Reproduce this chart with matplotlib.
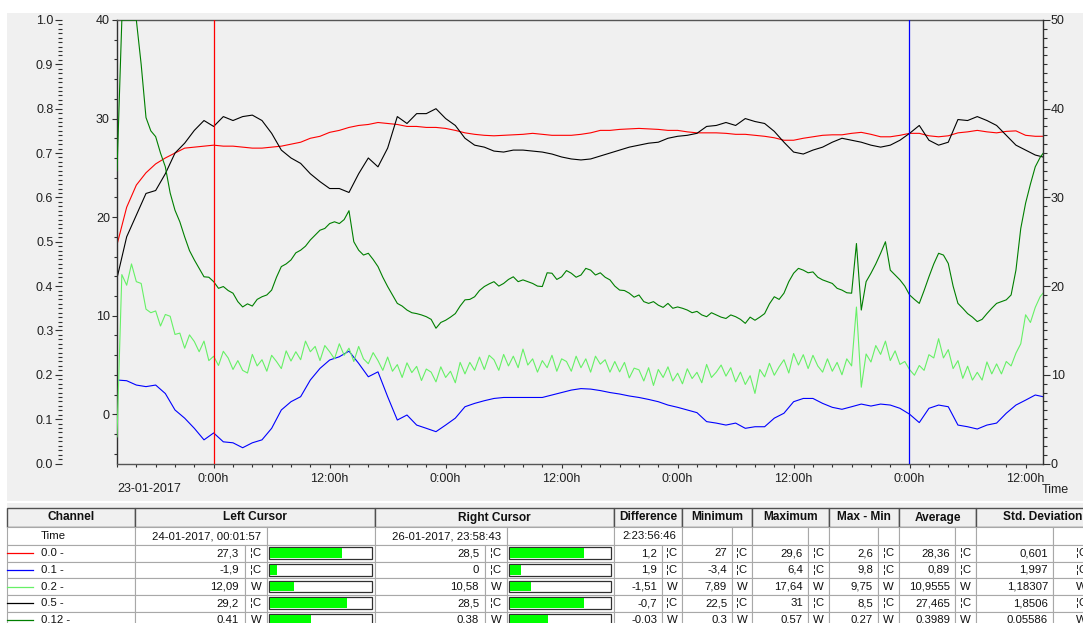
import matplotlib
matplotlib.use("Agg")
import matplotlib.pyplot as plt
import matplotlib.dates as mdates
from matplotlib.ticker import MultipleLocator, FixedLocator, FuncFormatter
from matplotlib.patches import Rectangle
from datetime import datetime, timedelta
import numpy as np

plt.rcParams['font.family'] = ['Liberation Sans', 'DejaVu Sans']

# ---------------------------------------------------------------- data
START = datetime(2017, 1, 23, 14, 0)
END_HOURS = 95.8

# hourly temperature channels (degC), last value at END_HOURS
temp_00 = [
    17.2, 21.0, 23.25, 24.5, 25.4, 26.0, 26.5, 27.0, 27.1, 27.2,
    27.3, 27.2, 27.2, 27.1, 27.0, 27.0, 27.1, 27.2, 27.4, 27.6,
    28.0, 28.2, 28.6, 28.8, 29.1, 29.3, 29.4, 29.6, 29.5, 29.4,
    29.2, 29.2, 29.1, 29.1, 29.0, 28.8, 28.55, 28.4, 28.3, 28.25,
    28.3, 28.35, 28.4, 28.5, 28.4, 28.3, 28.3, 28.3, 28.4, 28.55,
    28.8, 28.8, 28.9, 28.95, 29.0, 28.95, 28.9, 28.8, 28.8, 28.65,
    28.55, 28.55, 28.55, 28.5, 28.4, 28.4, 28.3, 28.2, 28.05, 27.8,
    27.8, 28.0, 28.15, 28.3, 28.35, 28.35, 28.5, 28.6, 28.4, 28.15,
    28.15, 28.3, 28.5, 28.5, 28.25, 28.15, 28.25, 28.55, 28.65, 28.8,
    28.65, 28.55, 28.7, 28.75, 28.3, 28.2, 28.2,
]
temp_01 = [
    3.47, 3.4, 2.96, 2.8, 2.96, 2.1, 0.43, -0.4, -1.43, -2.6,
    -1.9, -2.8, -2.9, -3.4, -2.9, -2.6, -1.43, 0.43, 1.27, 1.78,
    3.47, 4.65, 5.5, 5.83, 6.4, 5.16, 3.8, 4.3, 1.78, -0.59,
    -0.08, -1.1, -1.43, -1.77, -1.1, -0.4, 0.76, 1.1, 1.37, 1.6,
    1.7, 1.7, 1.7, 1.7, 1.7, 1.95, 2.2, 2.45, 2.6, 2.55,
    2.4, 2.2, 2.05, 1.85, 1.7, 1.5, 1.27, 0.93, 0.7, 0.43,
    0.16, -0.75, -0.9, -1.1, -0.9, -1.43, -1.27, -1.27, -0.4, 0.1,
    1.27, 1.6, 1.6, 1.1, 0.7, 0.5, 0.76, 1.03, 0.83, 1.03,
    0.93, 0.6, 0.0, -0.85, 0.6, 0.93, 0.76, -1.1, -1.27, -1.5,
    -1.1, -0.9, 0.1, 0.93, 1.43, 1.95, 1.78,
]
temp_05 = [
    13.8, 18.0, 20.2, 22.4, 22.7, 24.4, 26.5, 27.5, 28.8, 29.8,
    29.2, 30.2, 29.8, 30.2, 30.35, 29.8, 28.5, 26.8, 26.0, 25.45,
    24.4, 23.6, 22.9, 22.9, 22.5, 24.4, 26.0, 25.1, 27.0, 30.2,
    29.5, 30.5, 30.5, 31.0, 30.0, 29.3, 28.0, 27.3, 27.1, 26.7,
    26.6, 26.8, 26.8, 26.7, 26.6, 26.4, 26.1, 25.9, 25.8, 25.9,
    26.2, 26.5, 26.8, 27.1, 27.3, 27.5, 27.6, 28.0, 28.2, 28.3,
    28.5, 29.2, 29.3, 29.6, 29.3, 30.0, 29.7, 29.5, 28.7, 27.6,
    26.6, 26.4, 26.8, 27.1, 27.6, 28.0, 27.8, 27.6, 27.3, 27.1,
    27.3, 27.8, 28.5, 29.3, 27.8, 27.3, 27.6, 29.9, 29.8, 30.2,
    29.8, 29.3, 28.3, 27.3, 26.8, 26.3, 26.1,
]

# half-hourly power channels (W), last value at END_HOURS
power_02 = [
    3.0, 21.3, 20.1, 22.5, 20.5, 20.3, 17.4, 17.0, 17.2, 15.5,
    16.8, 16.6, 14.55, 14.7, 13.0, 14.5, 13.75, 12.6, 13.8, 11.6,
    12.09, 11.05, 12.65, 11.9, 10.6, 11.6, 10.5, 10.2, 12.3, 11.0,
    11.7, 10.4, 12.2, 11.5, 10.7, 12.7, 11.55, 12.6, 11.7, 13.8,
    12.6, 13.2, 11.6, 13.3, 12.6, 11.8, 13.5, 12.2, 13.0, 11.5,
    13.2, 11.8, 11.25, 12.5, 11.6, 10.5, 12.0, 10.4, 11.15, 9.7,
    11.35, 10.25, 10.95, 9.35, 10.65, 10.3, 9.2, 10.9, 9.7, 10.4,
    9.1, 11.4, 10.1, 11.4, 10.5, 12.0, 10.6, 12.2, 11.7, 10.5,
    12.3, 11.0, 12.1, 10.8, 12.9, 11.1, 11.8, 10.3, 11.6, 10.8,
    12.2, 10.4, 11.8, 11.5, 10.4, 12.1, 10.8, 11.8, 10.3, 12.1,
    11.2, 11.7, 10.3, 11.5, 10.33, 11.4, 9.65, 10.75, 10.56, 9.3,
    10.8, 8.8, 10.6, 9.7, 10.9, 9.3, 10.18, 8.98, 10.68, 9.58,
    10.28, 9.1, 11.17, 9.7, 10.3, 11.1, 9.85, 10.8, 9.2, 10.3,
    8.91, 9.9, 7.9, 10.6, 9.77, 11.3, 9.95, 10.9, 11.7, 10.2,
    12.4, 11.1, 12.27, 10.7, 12.2, 11.0, 10.3, 11.8, 10.4, 11.4,
    10.0, 11.8, 11.0, 17.64, 8.6, 12.35, 11.44, 13.3, 12.3, 13.8,
    11.6, 12.7, 11.17, 11.5, 10.58, 9.95, 11.05, 10.5, 12.27, 11.9,
    14.07, 11.9, 12.84, 10.7, 11.6, 9.6, 10.97, 9.4, 10.28, 9.4,
    11.45, 10.1, 11.23, 10.1, 11.5, 11.0, 12.44, 13.5, 16.77, 15.9,
    17.6, 18.8, 19.2,
]
power_012 = [
    0.66, 1.30, 1.30, 1.30, 1.00, 0.90, 0.78, 0.75, 0.737, 0.70,
    0.669, 0.61, 0.571, 0.545, 0.511, 0.48, 0.459, 0.44, 0.421, 0.42,
    0.41, 0.395, 0.399, 0.39, 0.384, 0.365, 0.353, 0.36, 0.355, 0.37,
    0.376, 0.38, 0.391, 0.42, 0.444, 0.45, 0.459, 0.475, 0.481, 0.49,
    0.504, 0.515, 0.526, 0.53, 0.541, 0.545, 0.541, 0.55, 0.57, 0.50,
    0.481, 0.47, 0.474, 0.46, 0.444, 0.42, 0.399, 0.38, 0.361, 0.355,
    0.346, 0.34, 0.338, 0.335, 0.331, 0.325, 0.305, 0.318, 0.323, 0.33,
    0.338, 0.355, 0.369, 0.37, 0.376, 0.39, 0.399, 0.405, 0.41, 0.40,
    0.406, 0.415, 0.421, 0.41, 0.414, 0.41, 0.406, 0.40, 0.399, 0.43,
    0.429, 0.415, 0.421, 0.435, 0.429, 0.42, 0.425, 0.44, 0.436, 0.425,
    0.43, 0.42, 0.414, 0.40, 0.391, 0.39, 0.384, 0.375, 0.38, 0.365,
    0.361, 0.365, 0.357, 0.352, 0.361, 0.35, 0.353, 0.35, 0.346, 0.34,
    0.343, 0.335, 0.331, 0.34, 0.335, 0.33, 0.327, 0.335, 0.331, 0.325,
    0.316, 0.33, 0.323, 0.33, 0.338, 0.36, 0.376, 0.37, 0.384, 0.41,
    0.429, 0.44, 0.436, 0.43, 0.432, 0.42, 0.414, 0.41, 0.406, 0.395,
    0.391, 0.385, 0.384, 0.496, 0.346, 0.41, 0.429, 0.45, 0.474, 0.50,
    0.436, 0.425, 0.414, 0.40, 0.38, 0.37, 0.361, 0.39, 0.421, 0.45,
    0.474, 0.47, 0.451, 0.40, 0.361, 0.35, 0.338, 0.33, 0.32, 0.325,
    0.338, 0.35, 0.361, 0.365, 0.369, 0.38, 0.436, 0.53, 0.587, 0.63,
    0.669, 0.69, 0.699,
]

LEFT_CURSOR = datetime(2017, 1, 24, 0, 1, 57)
RIGHT_CURSOR = datetime(2017, 1, 26, 23, 58, 43)

# table contents
channel_names = ["0.0 -", "0.1 -", "0.2 -", "0.5 -", "0.12 -"]
channel_units = ["¦C", "¦C", "W", "¦C", "W"]
left_cursor_vals = [27.3, -1.9, 12.09, 29.2, 0.41]
right_cursor_vals = [28.5, 0, 10.58, 28.5, 0.38]
difference_vals = [1.2, 1.9, -1.51, -0.7, -0.03]
minimum_vals = [27, -3.4, 7.89, 22.5, 0.3]
maximum_vals = [29.6, 6.4, 17.64, 31, 0.57]
maxmin_vals = [2.6, 9.8, 9.75, 8.5, 0.27]
average_vals = [28.36, 0.89, 10.9555, 27.465, 0.3989]
stddev_vals = [0.601, 1.997, 1.18307, 1.8506, 0.05586]
time_left_txt = "24-01-2017, 00:01:57"
time_right_txt = "26-01-2017, 23:58:43"
time_diff_txt = "2:23:56:46"

# ---------------------------------------------------------------- styles
C_RED, C_BLUE, C_LGREEN, C_BLACK, C_DGREEN = "#ff0000", "#0000ff", "#66f066", "#000000", "#007f00"
BG = "#f0f0f0"
W, H = 1083, 623


def fx(px):
    return px / W


def fy(py):
    return 1 - py / H


hourly = np.r_[np.arange(96), END_HOURS]
half_hourly = np.r_[np.arange(0, 96, 0.5), END_HOURS]
t_hourly = [START + timedelta(hours=float(h)) for h in hourly]
t_half = [START + timedelta(hours=float(h)) for h in half_hourly]

fig = plt.figure(figsize=(W / 100, H / 100), dpi=100, facecolor="white")

# full-figure canvas in pixel units for panels and table
bg = fig.add_axes([0, 0, 1, 1], zorder=0)
bg.set_xlim(0, W)
bg.set_ylim(H, 0)
bg.axis("off")
bg.add_patch(Rectangle((7, 13), W, 488, facecolor=BG, edgecolor="none"))
bg.add_patch(Rectangle((7, 503), W, 5, facecolor=BG, edgecolor="none"))

# ---------------------------------------------------------------- chart
x0, x1, ytop, ybot = 117, 1043, 20, 463.5
ax = fig.add_axes([fx(x0), fy(ybot), fx(x1 - x0), (ybot - ytop) / H], zorder=1)
ax.set_facecolor(BG)
ax_r = ax.twinx()
ax_o = ax.twinx()
ax_r.set_zorder(2)
ax_o.set_zorder(3)
for a in (ax_r, ax_o):
    a.patch.set_visible(False)

ax.plot(t_hourly, temp_00, color=C_RED, lw=0.8)
ax.plot(t_hourly, temp_05, color=C_BLACK, lw=0.8)
ax.plot(t_hourly, temp_01, color=C_BLUE, lw=0.8)
ax.set_ylim(-5, 40)

ax_r.plot(t_half, power_02, color=C_LGREEN, lw=0.8)
ax_r.set_ylim(0, 50)

ax_o.set_ylim(0, 1)
ax_o.plot(t_half, np.clip(power_012, *ax_o.get_ylim()), color=C_DGREEN, lw=0.8)

ax_o.axvline(LEFT_CURSOR, color="#ff0000", lw=0.9, zorder=5)
ax_o.axvline(RIGHT_CURSOR, color="#0000ff", lw=0.9, zorder=5)

ax.set_xlim(START, START + timedelta(hours=END_HOURS))

SP = "#303030"
TXT = "#202020"

# spines
for a in (ax, ax_r, ax_o):
    for s in a.spines.values():
        s.set_visible(False)
ax.spines["left"].set_visible(True)
ax.spines["bottom"].set_visible(True)
ax.spines["top"].set_visible(True)
ax.spines["left"].set_color(SP)
ax.spines["bottom"].set_color("#555555")
ax.spines["top"].set_color("#555555")
ax_r.spines["right"].set_visible(True)
ax_r.spines["right"].set_color(SP)
for s in ("left", "bottom", "top"):
    ax.spines[s].set_linewidth(1.0)
ax_r.spines["right"].set_linewidth(1.0)

# x axis
ax.xaxis.set_major_locator(mdates.HourLocator(byhour=[0, 12]))
ax.xaxis.set_minor_locator(mdates.HourLocator(byhour=range(0, 24, 2)))
ax.xaxis.set_major_formatter(FuncFormatter(lambda v, p: f"{mdates.num2date(v).hour}:00h"))
ax.tick_params(axis="x", which="major", length=3, width=0.8, pad=3.5, labelsize=9,
               color=SP, labelcolor=TXT)
ax.tick_params(axis="x", which="minor", length=2.2, width=0.8, color=SP)

# inner left axis (degC)
ax.yaxis.set_major_locator(FixedLocator([0, 10, 20, 30, 40]))
ax.yaxis.set_minor_locator(MultipleLocator(2))
ax.tick_params(axis="y", which="major", length=3.6, width=0.8, pad=1.5, labelsize=9,
               color=SP, labelcolor=TXT)
ax.tick_params(axis="y", which="minor", length=2.2, width=0.8, color=SP)

# right axis (W)
ax_r.yaxis.set_major_locator(MultipleLocator(10))
ax_r.yaxis.set_minor_locator(MultipleLocator(1))
ax_r.tick_params(axis="y", which="major", length=4.8, width=0.8, pad=0.8, labelsize=9,
                 color=SP, labelcolor=TXT)
ax_r.tick_params(axis="y", which="minor", length=3.1, width=0.8, color=SP)

# outer left axis (0..1)
ax_o.yaxis.tick_left()
ax_o.spines["left"].set_position(("axes", (61.7 - x0) / (x1 - x0)))
ax_o.yaxis.set_major_locator(MultipleLocator(0.1))
ax_o.yaxis.set_minor_locator(MultipleLocator(0.01))
ax_o.yaxis.set_major_formatter(FuncFormatter(lambda v, p: f"{v:.1f}"))
ax_o.tick_params(axis="y", which="major", length=4.8, width=0.8, pad=1.2, labelsize=9,
                 color=SP, labelcolor=TXT, left=True, right=False, labelleft=True, labelright=False)
ax_o.tick_params(axis="y", which="minor", length=3.1, width=0.8, color=SP, left=True, right=False)
ax_o.xaxis.set_visible(False)
ax_r.xaxis.set_visible(False)

fig.text(fx(117), fy(489), START.strftime("%d-%m-%Y"), fontsize=9, color=TXT, ha="left", va="center")
fig.text(fx(1042), fy(490), "Time", fontsize=9, color=TXT, ha="left", va="center")

# ---------------------------------------------------------------- table
HDR_TOP, HDR_BOT = 507.7, 527.3
row_edges = [527.3, 545.0, 561.7, 578.3, 595.0, 611.7, 628.3]
GRID = "#a8a8a8"


def cell(xa, xb, ya, yb, fc="white", ec=GRID, lw=0.8):
    bg.add_patch(Rectangle((xa, ya), xb - xa, yb - ya, facecolor=fc, edgecolor=ec, lw=lw))


def put(x, y, s, ha="right", bold=False, size=8.2):
    bg.text(x, y, s, ha=ha, va="center", fontsize=size, color="#101010",
            fontweight="bold" if bold else "normal")


def fmt(v):
    return f"{v:g}".replace(".", ",")


headers = [("Channel", 7, 135), ("Left Cursor", 135, 375), ("Right Cursor", 375, 614),
           ("Difference", 614, 682), ("Minimum", 682, 752), ("Maximum", 752, 829),
           ("Max - Min", 829, 899), ("Average", 899, 976), ("Std. Deviation", 976, 1110)]
for name, xa, xb in headers:
    cell(xa, xb, HDR_TOP, HDR_BOT, fc=BG, ec="#505050", lw=1.0)
    put((xa + xb) / 2, (HDR_TOP + HDR_BOT) / 2, name, ha="center", bold=True, size=8.6)

# value/unit column splits: (value start, unit start, unit end)
stat_cols = [(614, 662, 682), (682, 732, 752), (752, 808, 829), (829, 878, 899),
             (899, 955, 976), (976, 1053, 1110)]
lc_cols = (135, 245, 267, 375)
rc_cols = (375, 485, 507, 614)

# time row
ya, yb = row_edges[0], row_edges[1]
ym = (ya + yb) / 2
cell(7, 135, ya, yb)
put(41, ym, "Time", ha="left")
cell(lc_cols[0], lc_cols[2], ya, yb)
put(lc_cols[2] - 6, ym, time_left_txt)
cell(lc_cols[2], lc_cols[3], ya, yb)
cell(rc_cols[0], rc_cols[2], ya, yb)
put(rc_cols[2] - 6, ym, time_right_txt)
cell(rc_cols[2], rc_cols[3], ya, yb)
cell(614, 682, ya, yb)
put(676, ym, time_diff_txt)
for va_, vu, ve in stat_cols[1:]:
    cell(va_, vu, ya, yb)
    cell(vu, ve, ya, yb)

line_colors = [C_RED, C_BLUE, C_LGREEN, C_BLACK, C_DGREEN]
axis_of = [ax, ax, ax_r, ax, ax_o]
stat_lists = [difference_vals, minimum_vals, maximum_vals, maxmin_vals, average_vals, stddev_vals]


def bar(xa, xb, ya, yb, frac):
    bg.add_patch(Rectangle((xa, ya), xb - xa, yb - ya, facecolor="white", edgecolor="#303030", lw=0.9))
    frac = min(max(frac, 0), 1)
    bg.add_patch(Rectangle((xa + 1, ya + 1), (xb - xa - 2) * frac, yb - ya - 2,
                           facecolor="#00ff00", edgecolor="none"))


for i in range(len(channel_names)):
    ya, yb = row_edges[i + 1], row_edges[i + 2]
    ym = (ya + yb) / 2
    unit = channel_units[i]
    lo, hi = axis_of[i].get_ylim()
    cell(7, 135, ya, yb)
    bg.plot([7, 33], [ym, ym], color=line_colors[i], lw=0.9)
    put(41, ym, channel_names[i], ha="left")
    for cols, val in ((lc_cols, left_cursor_vals[i]), (rc_cols, right_cursor_vals[i])):
        cell(cols[0], cols[1], ya, yb)
        put(cols[1] - 6, ym, fmt(val))
        cell(cols[1], cols[2], ya, yb)
        put((cols[1] + cols[2]) / 2, ym, unit, ha="center")
        cell(cols[2], cols[3], ya, yb)
        bar(cols[2] + 2, cols[3] - 3, ya + 2.3, yb - 2.8, (val - lo) / (hi - lo))
    for (va_, vu, ve), vals in zip(stat_cols, stat_lists):
        cell(va_, vu, ya, yb)
        put(vu - 5, ym, fmt(vals[i]))
        cell(vu, ve, ya, yb)
        put((vu + ve) / 2, ym, unit, ha="center")

fig.savefig("out.png", dpi=100, facecolor="white")
